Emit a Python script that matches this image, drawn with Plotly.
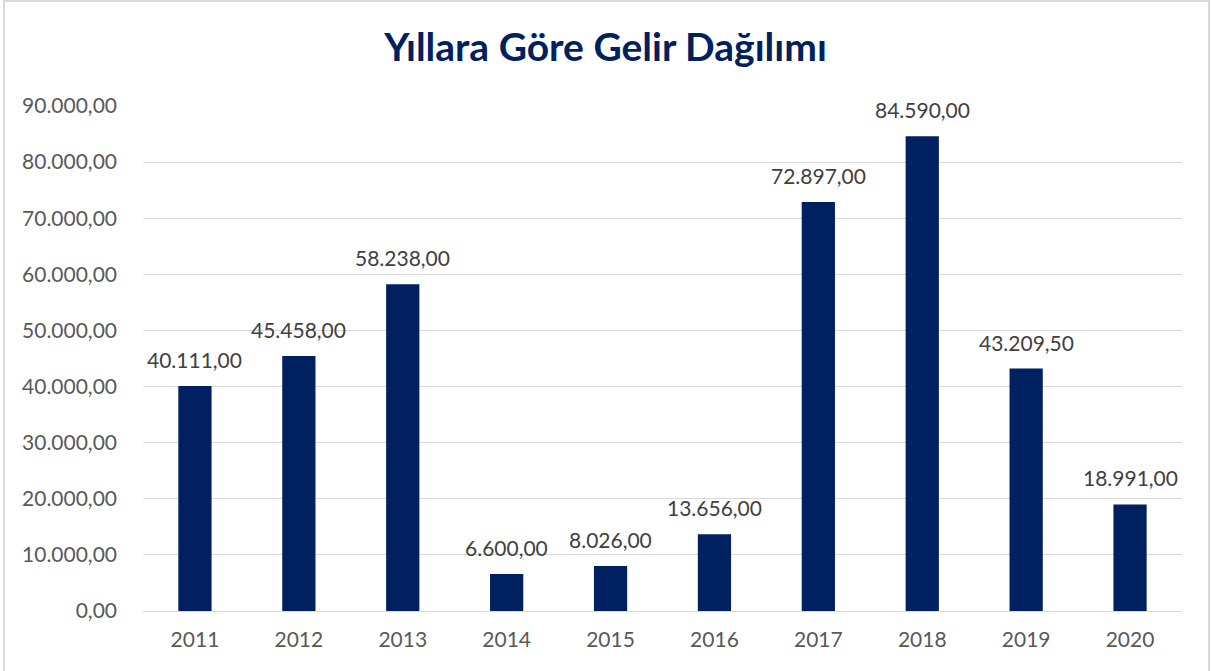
import plotly.graph_objects as go

years = ["2011", "2012", "2013", "2014", "2015", "2016", "2017", "2018", "2019", "2020"]
income = [40111.00, 45458.00, 58238.00, 6600.00, 8026.00, 13656.00, 72897.00, 84590.00, 43209.50, 18991.00]

W, H = 1211, 671
L, R, T, B = 143, 29, 106, 60
pw, ph = W - L - R, H - T - B

fig = go.Figure(go.Bar(
    x=years, y=income,
    marker=dict(color="#002060", line=dict(width=0)),
    hovertemplate="%{x}: %{y:,.2f}<extra></extra>",
))

def fmt(v):
    s = f"{v:,.2f}"
    return s.replace(",", "X").replace(".", ",").replace("X", ".")

# category axis: annotation x given as category index
for i, v in enumerate(income):
    fig.add_annotation(x=i, y=v, text=fmt(v), showarrow=False,
                       xanchor="center", yanchor="bottom", yshift=12,
                       font=dict(family="Lato", size=21, color="#404040"))

def px_x(p):
    return (p - L) / pw

def px_y(p):
    return (H - B - p) / ph

fig.add_shape(type="rect", xref="paper", yref="paper",
              x0=px_x(4), x1=px_x(1209), y0=px_y(690), y1=px_y(1),
              line=dict(color="#D9D9D9", width=2), fillcolor="rgba(0,0,0,0)", layer="below")

fig.update_layout(
    width=W, height=H,
    margin=dict(l=L, r=R, t=T, b=B),
    separators=",.",
    paper_bgcolor="white", plot_bgcolor="white",
    bargap=0.68,
    title=dict(text="<b>Yıllara Göre Gelir Dağılımı</b>", x=0.5, xref="container", xanchor="center",
               y=1 - 47 / H, yanchor="middle",
               font=dict(family="Lato", size=39, color="#002060")),
    xaxis=dict(type="category", categoryorder="array", categoryarray=years,
               range=[-0.5, len(years) - 0.5],
               showgrid=False, showline=False, ticks="",
               tickfont=dict(family="Lato", size=21, color="#595959"), ticklabelstandoff=14),
    yaxis=dict(range=[0, 90000], dtick=10000, tickformat=",.2f",
               showgrid=True, gridcolor="#D9D9D9", gridwidth=1,
               zeroline=True, zerolinecolor="#D9D9D9", zerolinewidth=1,
               showline=False, ticks="",
               tickfont=dict(family="Lato", size=21, color="#595959"), ticklabelstandoff=25),
    showlegend=False,
)

fig.write_html("out.html", config={"displayModeBar": False},
               post_script="document.body.style.margin='0';document.body.style.overflow='hidden';")
